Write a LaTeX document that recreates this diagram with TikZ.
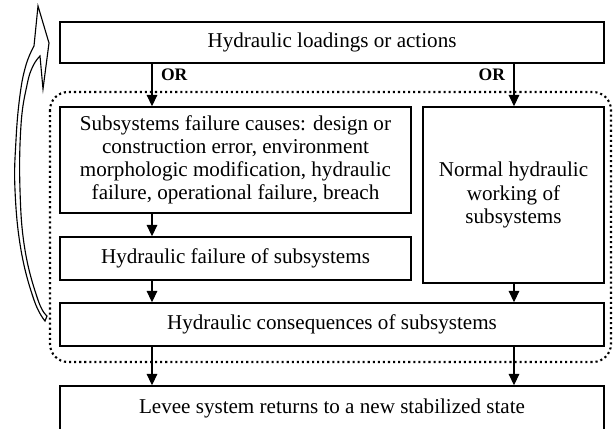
\documentclass[tikz,border=0pt]{standalone}
\usepackage{fontspec}
\setmainfont{Liberation Serif}
\usetikzlibrary{arrows.meta}

\begin{document}
\begin{tikzpicture}[
    x=0.025cm, y=-0.025cm,
    box/.style={rectangle, draw, line width=1.1pt, align=center, inner sep=2pt, font=\fontsize{15}{16.5}\selectfont},
    arrow/.style={-{Triangle[width=7.5pt, length=8pt]}, line width=0.8pt},
    orlabel/.style={font=\fontsize{12.5}{14}\selectfont\bfseries, inner sep=2pt},
    dotframe/.style={line width=1.5pt, dash pattern=on 1.5pt off 2.1pt, rounded corners=0.45cm},
    loopback/.style={draw, fill=white, line width=0.8pt, line join=miter}
]

\useasboundingbox (0,0) rectangle (616,428);

\coordinate (lx) at (152,0);
\coordinate (rx) at (514,0);

\node[box, minimum width=13.6cm, minimum height=1.025cm] (loads) at (332,42.5)
{Hydraulic loadings or actions};

\node[box, minimum width=8.775cm, minimum height=2.65cm] (causes) at (235.5,160)
{Subsystems failure causes: design or\\construction error, environment\\morphologic modification, hydraulic\\failure, operational failure, breach};

\node[box, minimum width=4.525cm, minimum height=4.4cm] (normal) at (513.5,195)
{Normal hydraulic\\working of\\subsystems};

\node[box, minimum width=8.775cm, minimum height=1.075cm] (failure) at (235.5,258.5)
{Hydraulic failure of subsystems};

\node[box, minimum width=13.6cm, minimum height=1.075cm] (conseq) at (332,324.5)
{Hydraulic consequences of subsystems};

\node[box, minimum width=13.6cm, minimum height=1.1cm] (levee) at (332,408)
{Levee system returns to a new stabilized state};

\draw[dotframe] (50,92) rectangle (611,362);

\draw[arrow] (loads.south -| lx) -- node[orlabel, pos=0.27, right=4pt]{OR} (causes.north -| lx);
\draw[arrow] (loads.south -| rx) -- node[orlabel, pos=0.27, left=4pt]{OR} (normal.north -| rx);
\draw[arrow] (causes.south -| lx) -- (failure.north -| lx);
\draw[arrow] (failure.south -| lx) -- (conseq.north -| lx);
\draw[arrow] (normal.south -| rx) -- (conseq.north -| rx);
\draw[arrow] (conseq.south -| lx) -- (levee.north -| lx);
\draw[arrow] (conseq.south -| rx) -- (levee.north -| rx);

\path[loopback] (45,321)
  -- plot[smooth, tension=0.7] coordinates {(45,321) (34,300) (21,250) (15,190) (16,140) (20,95) (26,65) (34,46)}
  -- (38,6) -- (49,43) -- (43,89) -- (40,56)
  -- plot[smooth, tension=0.7] coordinates {(40,56) (33,66) (27,85) (21,125) (20,190) (25,250) (38,300) (47,316)}
  -- cycle;

\end{tikzpicture}
\end{document}
